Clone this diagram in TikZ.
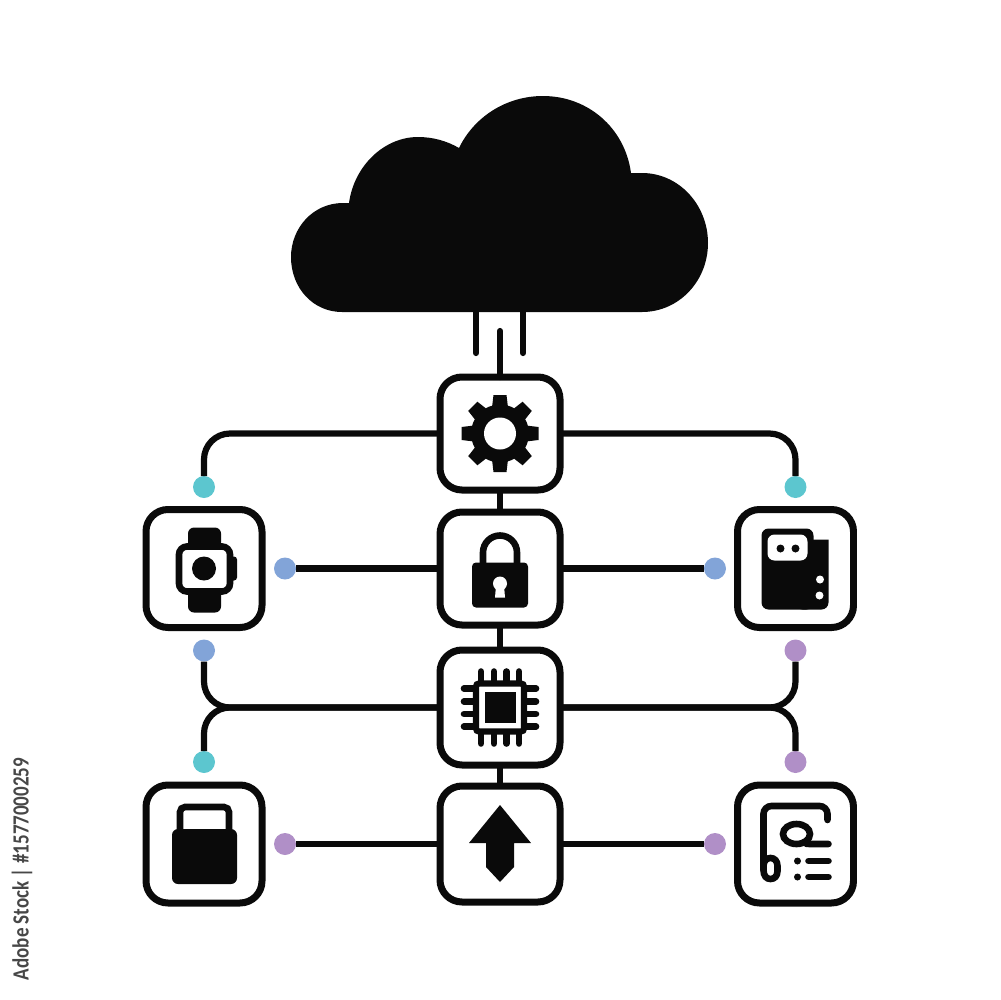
\documentclass[tikz,border=0pt]{standalone}
\usepackage{fontspec}
\newfontfamily\stockfont{Carlito}
\definecolor{ink}{HTML}{0A0A0A}
\definecolor{tealdot}{HTML}{5CC6CF}
\definecolor{bluedot}{HTML}{82A4D8}
\definecolor{purpledot}{HTML}{B08FC7}
\tikzset{
  main/.style = {draw=ink, rectangle, rounded corners=2.2mm, line width=.7mm, minimum width=12mm, minimum height=11.3mm, inner sep=0pt, outer sep=0pt},
  side/.style = {main, minimum width=11.6mm, minimum height=11.8mm},
  dot/.style = {circle, minimum size=2.2mm, inner sep=0pt, outer sep=0pt},
  wire/.style = {draw=ink, line width=.62mm, rounded corners=2.6mm},
  cable/.style = {draw=ink, line width=.62mm, line cap=round},
  stroke/.style = {draw=ink, line width=.66mm, line cap=round},
}
\begin{document}
\begin{tikzpicture}[x=.1mm,y=-.1mm]
\useasboundingbox (0,0) rectangle (1000,1000);
% cloud
\fill[ink] (342,312) .. controls (313,312) and (291,288) .. (291,257) .. controls (291,228) and (313,203) .. (343,203) -- (349,203) .. controls (354,166) and (384,137) .. (418,137) .. controls (433,137) and (447,141) .. (459,148) .. controls (474,117) and (506,96) .. (543,96) .. controls (588,96) and (625,128) .. (631,173) -- (642,173) .. controls (679,173) and (708,205) .. (708,243) .. controls (708,281) and (679,312) .. (642,312) -- cycle;
\coordinate (c1) at (476,312);
\coordinate (c2) at (476,353);
\coordinate (c3) at (523,312);
\coordinate (c4) at (523,353);
\coordinate (c5) at (500,331);
% boxes
\node[main] (gear) at (500,433.5) {};
\node[main,node distance=13.5mm] (lock) [below of=gear] {};
\node[main,node distance=13.9mm,minimum height=11.5mm] (chip) [below of=lock] {};
\node[main,node distance=13.65mm,minimum height=11.6mm] (upload) [below of=chip] {};
\node[side,node distance=29.6mm] (watch) [left of=lock] {};
\node[side,node distance=29.55mm] (socket) [right of=lock] {};
\node[side,node distance=29.6mm] (bag) [left of=upload] {};
\node[side,node distance=29.55mm] (doc) [right of=upload] {};
% dots
\node[dot,fill=tealdot,node distance=8.15mm] (d1) [above of=watch] {};
\node[dot,fill=tealdot,node distance=8.15mm] (d2) [above of=socket] {};
\node[dot,fill=bluedot,node distance=21.5mm] (d3) [left of=lock] {};
\node[dot,fill=bluedot,node distance=21.5mm] (d4) [right of=lock] {};
\node[dot,fill=bluedot,node distance=8.2mm] (d5) [below of=watch] {};
\node[dot,fill=purpledot,node distance=8.2mm] (d6) [below of=socket] {};
\node[dot,fill=tealdot,node distance=8.2mm] (d7) [above of=bag] {};
\node[dot,fill=purpledot,node distance=8.2mm] (d8) [above of=doc] {};
\node[dot,fill=purpledot,node distance=21.5mm] (d9) [left of=upload] {};
\node[dot,fill=purpledot,node distance=21.5mm] (d10) [right of=upload] {};
% connectors
\draw[cable] (c1) -- (c2);
\draw[cable] (c3) -- (c4);
\draw[cable] (c5) -- (gear.north);
\draw[wire] (gear.south) -- (lock.north);
\draw[wire] (lock.south) -- (chip.north);
\draw[wire] (chip.south) -- (upload.north);
\draw[wire] (gear.west) -| (d1);
\draw[wire] (gear.east) -| (d2);
\draw[wire] (lock.west) -- (d3);
\draw[wire] (lock.east) -- (d4);
\draw[wire] (chip.west) -| (d5);
\draw[wire] (chip.east) -| (d6);
\draw[wire] (chip.west) -| (d7);
\draw[wire] (chip.east) -| (d8);
\draw[wire] (upload.west) -- (d9);
\draw[wire] (upload.east) -- (d10);
% gear
\begin{scope}[shift={(gear)}]
\fill[ink] (0,0) circle (29);
\foreach \a in {0,45,...,315}
  \fill[ink,rotate=\a] (-8,-26) -- (-6.5,-38.5) -- (6.5,-38.5) -- (8,-26) -- cycle;
\fill[white] (0,0) circle (16);
\end{scope}
% padlock
\begin{scope}[shift={(lock)}]
\draw[stroke,line cap=butt] (-17,-4) -- (-17,-16) arc (180:360:17) -- (17,-4);
\fill[ink,rounded corners=.4mm] (-28,-6) rectangle (28,39);
\fill[white] (0,15) circle (7);
\fill[white] (-4,17) -- (-5,29) -- (5,29) -- (4,17) -- cycle;
\end{scope}
% chip
\begin{scope}[shift={(chip)}]
\foreach \p in {-19,-6,6.5,19} {
  \draw[stroke] (\p,-36) -- (\p,-25);
  \draw[stroke] (\p,25) -- (\p,36);
  \draw[stroke] (-36,\p) -- (-25,\p);
  \draw[stroke] (25,\p) -- (36,\p);
}
\draw[ink,fill=white,line width=.62mm,rounded corners=.3mm] (-24,-24) rectangle (24,24);
\fill[ink] (-15.5,-15.5) rectangle (15.5,15.5);
\end{scope}
% arrow
\begin{scope}[shift={(upload)}]
\fill[ink] (0,-39) -- (31,-1) -- (14,-1) -- (14,23) -- (0,38) -- (-14,23) -- (-14,-1) -- (-31,-1) -- cycle;
\end{scope}
% watch
\begin{scope}[shift={(watch)}]
\fill[ink,rounded corners=.6mm] (-16,-20) -- (-16,-41) -- (17,-41) -- (17,-20) -- cycle;
\fill[ink,rounded corners=.6mm] (-16,20) -- (-16,44) -- (17,44) -- (17,20) -- cycle;
\fill[ink,rounded corners=.3mm] (24,-12) rectangle (33,12);
\draw[ink,fill=white,line width=.66mm,rounded corners=.8mm] (-25,-22) rectangle (26,23);
\fill[ink] (0,0) circle (12);
\end{scope}
% socket
\begin{scope}[shift={(socket)}]
\fill[ink,rounded corners=.7mm] (-34,-40) rectangle (18,41);
\fill[ink] (0,-29) -- (33,-29) [rounded corners=.7mm] -- (33,41) -- (0,41) [sharp corners] -- cycle;
\fill[white,rounded corners=.7mm] (-28,-34) rectangle (12,-8);
\fill[ink] (-15,-20) circle (4);
\fill[ink] (0,-20) circle (4);
\fill[white] (24.5,11) circle (4);
\fill[white] (24,27) circle (4);
\end{scope}
% bag
\begin{scope}[shift={(bag)}]
\draw[ink,line width=.66mm,rounded corners=.5mm] (-24,-10) -- (-24,-37) -- (25,-37) -- (25,-10);
\fill[ink,rounded corners=.6mm] (-32,-15) rectangle (33,40);
\end{scope}
% doc
\begin{scope}[shift={(doc)}]
\draw[stroke,rounded corners=.8mm] (32,-24) -- (32,-38) -- (-32,-38) -- (-32,26);
\draw[stroke] (-32,22) .. controls (-32,17) and (-29,14) .. (-25,14) .. controls (-21,14) and (-18,17) .. (-18,22) -- (-18,27) .. controls (-18,32) and (-21,35) .. (-25,35) .. controls (-29,35) and (-32,32) .. (-32,26);
\draw[stroke] (1,-10) ellipse (13.5 and 10);
\draw[stroke] (9,-2) .. controls (11,0) .. (14,0) -- (33,0);
\fill[ink] (2,17) circle (3.5);
\fill[ink] (2,33) circle (3.5);
\draw[stroke] (13,17) -- (33,17);
\draw[stroke] (13,33) -- (33,33);
\end{scope}
% stock line
\node[rotate=90,xscale=.82,text=black!72,inner sep=0pt] (stock) at (22,869) {\stockfont\bfseries\fontsize{6.6}{7}\selectfont Adobe Stock | \#1577000259};
\end{tikzpicture}
\end{document}
